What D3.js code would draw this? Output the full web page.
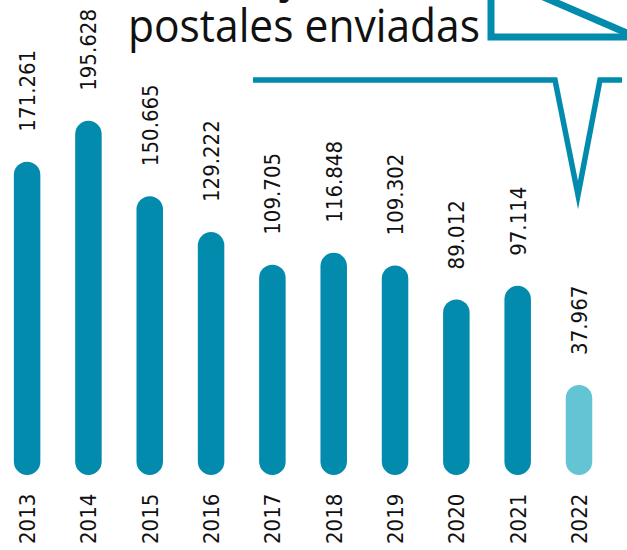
<!DOCTYPE html>
<html>
<head>
<meta charset="utf-8">
<script src="https://cdn.jsdelivr.net/npm/d3@7"></script>
<style>
  body { margin: 0; background: #fff; }
  svg { display: block; }
</style>
</head>
<body>
<div id="chart"></div>
<script>
// datos
let years = ["2013", "2014", "2015", "2016", "2017", "2018", "2019", "2020", "2021", "2022"];
let postales = [171.261, 195.628, 150.665, 129.222, 109.705, 116.848, 109.302, 89.012, 97.114, 37.967];
let valueLabels = ["171.261", "195.628", "150.665", "129.222", "109.705", "116.848", "109.302", "89.012", "97.114", "37.967"];
let titleLines = ["Número de tarjetas", "postales enviadas"];

let width = 627;
let height = 550;

let svg = d3.select("#chart")
  .append("svg")
  .attr("width", width)
  .attr("height", height);

let dark = "#028bad";
let light = "#63c4d3";
let barW = 26.5;
let base = 475;
let labelFont = "'DejaVu Sans Condensed', 'DejaVu Sans', sans-serif";

let x = d3.scalePoint()
  .domain(years)
  .range([27.1, 579]);

// bar body (cap centre to cap centre)
let y = d3.scaleLinear()
  .domain([0, 200])
  .range([base - barW / 2, base - barW / 2 - 335]);

let data = years.map(function(yr, i) {
  return { year: yr, value: postales[i], label: valueLabels[i] };
});

//////BARRAS
svg.selectAll("rect.bar")
  .data(data)
  .enter()
  .append("rect")
  .attr("class", "bar")
  .attr("x", function(d) { return x(d.year) - barW / 2; })
  .attr("y", function(d) { return y(d.value) - barW / 2; })
  .attr("width", barW)
  .attr("height", function(d) { return base - (y(d.value) - barW / 2); })
  .attr("rx", barW / 2)
  .attr("fill", function(d) { return d.year === "2022" ? light : dark; });

//////VALORES
svg.selectAll("text.val")
  .data(data)
  .enter()
  .append("text")
  .attr("class", "val")
  .attr("transform", function(d) {
    return "translate(" + x(d.year) + "," + (y(d.value) - barW / 2 - 30) + ") rotate(-90)";
  })
  .attr("dy", "0.36em")
  .style("font-family", labelFont)
  .style("font-size", "22px")
  .attr("fill", "#111")
  .text(function(d) { return d.label; });

//////AÑOS
svg.selectAll("text.year")
  .data(data)
  .enter()
  .append("text")
  .attr("class", "year")
  .attr("transform", function(d) {
    return "translate(" + x(d.year) + ",544) rotate(-90)";
  })
  .attr("dy", "0.36em")
  .style("font-family", labelFont)
  .style("font-size", "22px")
  .attr("fill", "#111")
  .text(function(d) { return d.year; });

//////SOBRE Y BOCADILLO
svg.append("path")
  .attr("d", "M491,-80 V37 H640")
  .attr("fill", "none")
  .attr("stroke", dark)
  .attr("stroke-width", 7);

svg.append("path")
  .attr("d", "M504,-20 L636,37")
  .attr("fill", "none")
  .attr("stroke", dark)
  .attr("stroke-width", 7);

svg.append("path")
  .attr("d", "M253,80 H555 L578,195 L600,80 H622")
  .attr("fill", "none")
  .attr("stroke", dark)
  .attr("stroke-width", 5.5)
  .attr("stroke-miterlimit", 20);

//////TITULO
let title = svg.append("g")
  .style("font-family", "'Open Sans', sans-serif")
  .style("font-weight", 400)
  .style("font-size", "45px")
  .attr("fill", "#111");

let line1 = title.append("text")
  .attr("y", -8)
  .text(titleLines[0]);

// put the 'j' descender where the reference shows it
let jIdx = titleLines[0].indexOf("j");
let jx = line1.node().getSubStringLength(0, jIdx);
line1.attr("x", 282 - jx);

title.append("text")
  .attr("x", 128)
  .attr("y", 42)
  .attr("textLength", 352)
  .attr("lengthAdjust", "spacingAndGlyphs")
  .text(titleLines[1]);
</script>
</body>
</html>
